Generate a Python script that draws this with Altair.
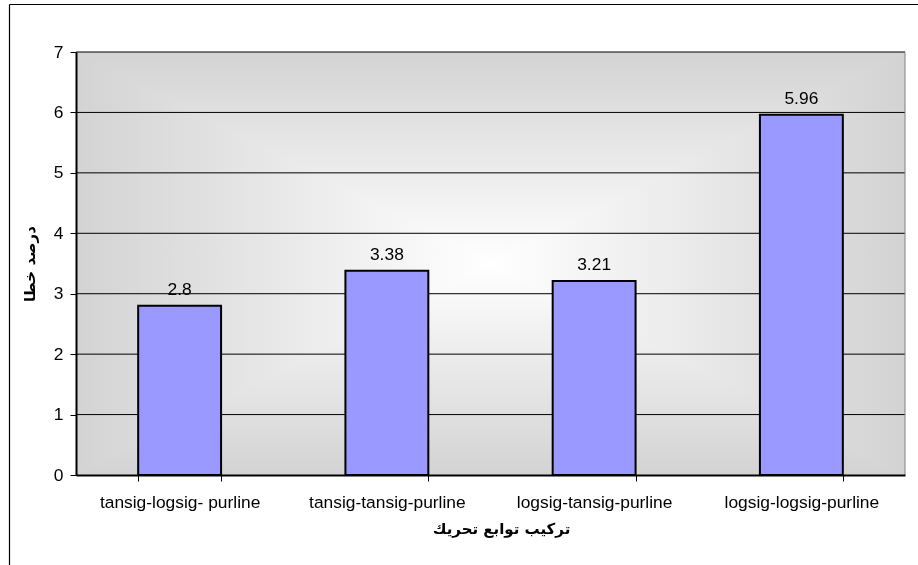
import altair as alt
import pandas as pd

# Error percentage per activation-function combination
combos = [
    "tansig-logsig- purline",
    "tansig-tansig-purline",
    "logsig-tansig-purline",
    "logsig-logsig-purline",
]
errors = [2.8, 3.38, 3.21, 5.96]
grid_values = [1, 2, 3, 4, 5, 6, 7]

W, H = 829, 423
df = pd.DataFrame({"combo": combos, "error": errors})
grid_df = pd.DataFrame({"v": grid_values})
one = pd.DataFrame({"k": [0]})

GRAY = "#d3d3d3"
h_grad = alt.LinearGradient(
    gradient="linear", x1=0, y1=0, x2=1, y2=0,
    stops=[alt.GradientStop(offset=0, color=GRAY),
           alt.GradientStop(offset=0.5, color="#ffffff"),
           alt.GradientStop(offset=1, color=GRAY)],
)
v_grad = alt.LinearGradient(
    gradient="linear", x1=0, y1=0, x2=0, y2=1,
    stops=[alt.GradientStop(offset=0, color=GRAY),
           alt.GradientStop(offset=0.5, color="#ffffff"),
           alt.GradientStop(offset=1, color=GRAY)],
)

# Box-shaped "from centre" shading: two crossed gradients combined with darken
bg_h = alt.Chart(one).mark_rect(fill=h_grad).encode(
    x=alt.value(0), x2=alt.value(W), y=alt.value(0), y2=alt.value(H)
)
bg_v = alt.Chart(one).mark_rect(fill=v_grad, blend="darken").encode(
    x=alt.value(0), x2=alt.value(W), y=alt.value(0), y2=alt.value(H)
)

y_scale = alt.Scale(domain=[0, 7], nice=False)

grid = alt.Chart(grid_df).mark_rule(color="black", strokeWidth=1).encode(
    y=alt.Y("v:Q", scale=y_scale)
)

right_edge = alt.Chart(one).mark_rule(color="#808080", strokeWidth=1).encode(
    x=alt.value(W), y=alt.value(0), y2=alt.value(H)
)

x_enc = alt.X(
    "combo:N",
    sort=combos,
    scale=alt.Scale(paddingInner=0.6, paddingOuter=0.3),
    axis=alt.Axis(
        title="تركيب توابع تحريك",
        titleFont="DejaVu Sans",
        titleFontSize=15,
        titleFontWeight="bold",
        titleColor="black",
        titleX=425,
        titleY=53,
        titleBaseline="middle",
        labelAngle=0,
        labelFontSize=17.4,
        labelColor="black",
        labelPadding=12,
        labelLimit=400,
        tickBand="extent",
        tickSize=6,
        tickColor="black",
        domainColor="black",
        domainWidth=2,
        grid=False,
        zindex=1,
    ),
)

y_enc = alt.Y(
    "error:Q",
    scale=y_scale,
    axis=alt.Axis(
        values=[0, 1, 2, 3, 4, 5, 6, 7],
        format="d",
        title="درصد خطا",
        titleFont="DejaVu Sans",
        titleFontSize=15,
        titleFontWeight="bold",
        titleColor="black",
        titleX=-47,
        titleBaseline="middle",
        labelFontSize=17.4,
        labelColor="black",
        labelPadding=7,
        tickSize=6,
        tickColor="black",
        domainColor="black",
        domainWidth=2,
        grid=False,
        zindex=1,
    ),
)

bars = alt.Chart(df).mark_bar(
    color="#9999ff", stroke="black", strokeWidth=2
).encode(x=x_enc, y=y_enc)

labels = alt.Chart(df).mark_text(
    fontSize=17.4, color="black", baseline="alphabetic", dy=-11
).encode(
    x=alt.X("combo:N", sort=combos),
    y=alt.Y("error:Q", scale=y_scale),
    text=alt.Text("error:Q"),
)

# Outer chart frame
frame_left = alt.Chart(one).mark_rule(color="black", strokeWidth=1.2).encode(
    x=alt.value(-66.5), y=alt.value(-47.5), y2=alt.value(H + 100)
)
frame_top = alt.Chart(one).mark_rule(color="black", strokeWidth=1.2).encode(
    x=alt.value(-66.5), x2=alt.value(W + 30), y=alt.value(-47.5)
)

chart = alt.layer(
    bg_h, bg_v, grid, right_edge, bars, labels, frame_left, frame_top
).properties(
    width=W,
    height=H,
    autosize=alt.AutoSizeParams(type="none"),
    padding={"left": 76, "top": 52, "right": 13, "bottom": 90},
    background="white",
).configure(
    font="Liberation Sans"
).configure_view(
    stroke=None
)

chart.save("out.html", embed_options={"renderer": "svg", "actions": False})
